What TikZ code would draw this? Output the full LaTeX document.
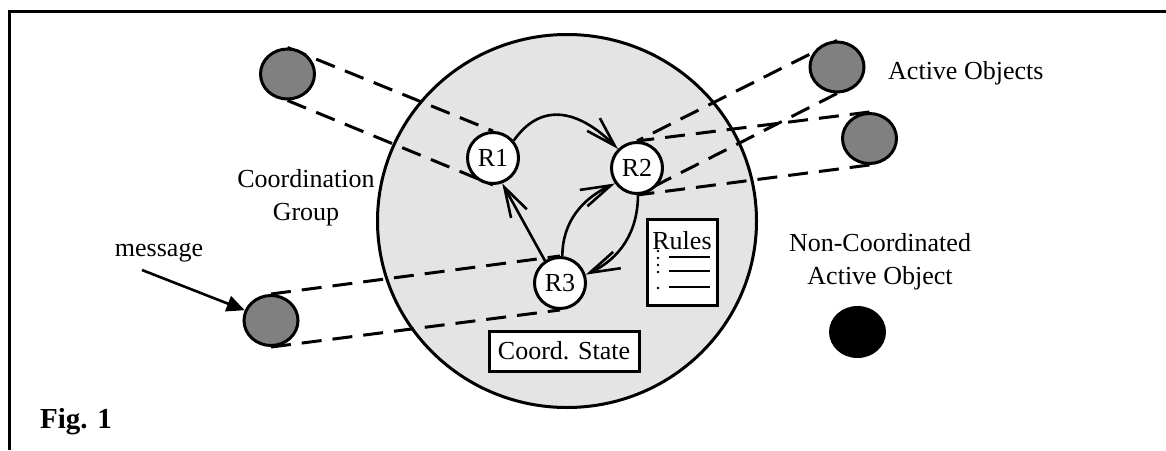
\documentclass[tikz,border=0pt]{standalone}
\usepackage{fontspec}
\setmainfont{Liberation Serif}
\usetikzlibrary{arrows.meta,shapes.geometric,calc}
\definecolor{aogray}{HTML}{808080}
\definecolor{groupgray}{HTML}{E4E4E4}
\pgfdeclarelayer{back}
\pgfdeclarelayer{mid}
\pgfsetlayers{back,mid,main}
\begin{document}
\begin{tikzpicture}[x=1pt,y=-1pt,
  txt/.style={font=\fontsize{26}{33}\selectfont, inner sep=0pt},
  ao/.style={ellipse, draw, line width=3pt, fill=aogray, minimum width=54pt, minimum height=50pt, inner sep=0pt},
  nco/.style={ellipse, fill=black, minimum width=57pt, minimum height=52pt, inner sep=0pt},
  rnode/.style={circle, draw, line width=3pt, fill=white, minimum size=51pt, inner sep=0pt, font=\fontsize{26}{32}\selectfont},
  box/.style={draw, line width=3pt, fill=white, inner sep=0pt},
  dot/.style={circle, fill=black, minimum size=2.6pt, inner sep=0pt},
  link/.style={line width=3pt, dash pattern=on 20pt off 11pt},
  flow/.style={line width=2.6pt, -{Straight Barb[length=30pt,width=18pt]}},
  msgarrow/.style={line width=2.6pt, -{Triangle[length=18pt,width=16pt]}},
  frame/.style={line width=3pt}
  ]
\useasboundingbox (0,0) rectangle (1166,450);
\draw[frame] (9.5,450) -- (9.5,11) -- (1166,11);

\begin{pgfonlayer}{back}
\node[ellipse, draw, line width=3pt, fill=groupgray, minimum width=379pt, minimum height=373pt] (grp) at (567,221) {};
\end{pgfonlayer}

% active objects
\node[ao] (A) at (287.5,74) {};
\node[ao] (B) at (837,67) {};
\node[ao] (C) at (869.5,138.5) {};
\node[ao] (M) at (271,320.5) {};
\node[nco] (N) at (857.5,332) {};

% roles
\node[rnode] (R1) at (493,158) {R1};
\node[rnode] (R2) at (637,168) {R2};
\node[rnode] (R3) at (560,283) {R3};

% boxes
\node[box, minimum width=70pt, minimum height=86pt] (rules) at (682,262) {};
\node[txt] (rulestitle) at (682,241) {Rules};
\node[dot] (d1a) at (658,251) {};
\node[dot] (d1b) at (658,258) {};
\node[dot] (d2a) at (658,265) {};
\node[dot] (d2b) at (658,272) {};
\node[dot] (d3) at (658,288) {};
\coordinate (l1a) at (669,257); \coordinate (l1b) at (710,257);
\coordinate (l2a) at (669,271); \coordinate (l2b) at (710,271);
\coordinate (l3a) at (669,287); \coordinate (l3b) at (710,287);
\draw[line width=1.3pt] (l1a) -- (l1b) (l2a) -- (l2b) (l3a) -- (l3b);
\node[box, txt, minimum width=150pt, minimum height=40pt] (cs) at (564,351) {Coord. State};

% dashed links
\begin{pgfonlayer}{mid}
\draw[link] (A.north) -- (R1.north);
\draw[link] (A.south) -- (R1.south);
\draw[link] (B.north) -- (R2.north);
\draw[link] (B.south) -- (R2.south);
\draw[link] (C.north) -- (R2.north);
\draw[link] (C.south) -- (R2.south);
\draw[link] (M.north) -- (R3.north);
\draw[link] (M.south) -- (R3.south);
\end{pgfonlayer}

% role arrows
\draw[flow] (R1.40) to[out=55,in=135,looseness=1.25] (R2.135);
\draw[flow] (R3.124) -- (R1.-70);
\draw[flow] (R3.85) to[out=90,in=205] (R2.215);
\draw[flow] (R2.-88) to[out=-90,in=25] (R3.18);

% message
\coordinate (msg0) at (142,270);
\draw[msgarrow] (msg0) -- (M);

% labels
\node[txt, anchor=west] (lab1) at (888,73) {Active Objects};
\node[txt, align=center] (lab2) at (306,198) {Coordination\\Group};
\node[txt, align=center] (lab3) at (880,262) {Non-Coordinated\\Active Object};
\node[txt, anchor=base] (lab4) at (159,256) {message};
\node[txt, font=\bfseries\fontsize{29}{34}\selectfont, anchor=west] (fig) at (40,422) {Fig. 1};
\end{tikzpicture}
\end{document}
